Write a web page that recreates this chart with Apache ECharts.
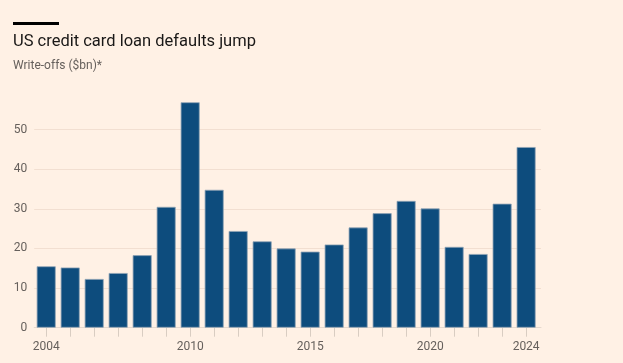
<!DOCTYPE html>
<html><head><meta charset="utf-8">
<script src="https://cdn.jsdelivr.net/npm/echarts@6/dist/echarts.min.js"></script>
<style>html,body{margin:0;padding:0;background:#fff1e5;}#c{width:623px;height:363px;}</style>
</head><body><div id="c"></div>
<script>
const years = [2004,2005,2006,2007,2008,2009,2010,2011,2012,2013,2014,2015,2016,2017,2018,2019,2020,2021,2022,2023,2024];
const writeOffs = [15.5,15.2,12.3,13.8,18.3,30.5,56.9,34.8,24.4,21.8,20.0,19.2,21.0,25.3,28.9,32.0,30.1,20.4,18.6,31.3,45.6];
const xLabelYears = [2004,2010,2015,2020,2024];
const yTicks = [0,10,20,30,40,50];
const titleText = 'US credit card loan defaults jump';
const subtitleText = 'Write-offs ($bn)*';

const chart = echarts.init(document.getElementById('c'));
const font = 'Roboto, "Noto Sans", sans-serif';
chart.setOption({
  backgroundColor: '#fff1e5',
  animation: false,
  graphic: [
    {type:'rect', left:13, top:22, shape:{width:46,height:3}, style:{fill:'#000'}},
    {type:'text', left:13, top:33, style:{text:titleText, font:'16.5px ' + font, fill:'#1a1817'}},
    {type:'text', left:13, top:60, style:{text:subtitleText, font:'12px ' + font, fill:'#66605c'}}
  ],
  grid: {left:34.2, right:82, top:90, bottom:35.3},
  xAxis: {
    type:'value', min:2003.5, max:2024.62,
    splitLine:{show:false},
    axisLine:{show:true, onZero:false, lineStyle:{color:'#e6d9ce'}},
    axisTick:{show:true, customValues: years, length:9, lineStyle:{color:'#d9cdc2'}},
    axisLabel:{customValues: xLabelYears, color:'#66605c', fontSize:12, fontFamily:font, margin:13, formatter: v => String(v)}
  },
  yAxis: {
    type:'value', min:0, max:60, interval:10,
    axisLine:{show:false}, axisTick:{show:false},
    axisLabel:{customValues: yTicks, color:'#66605c', fontSize:12, fontFamily:font, margin:7},
    splitLine:{show:true, showMaxLine:false, lineStyle:{color:'#f2dfd1'}}
  },
  series: [{
    type:'bar',
    data: years.map((y,i)=>[y, writeOffs[i]]),
    barWidth: 19,
    itemStyle:{color:'#0d4c7d', borderColor:'#8fa3b5', borderWidth:0.8}
  }]
});
</script></body></html>
